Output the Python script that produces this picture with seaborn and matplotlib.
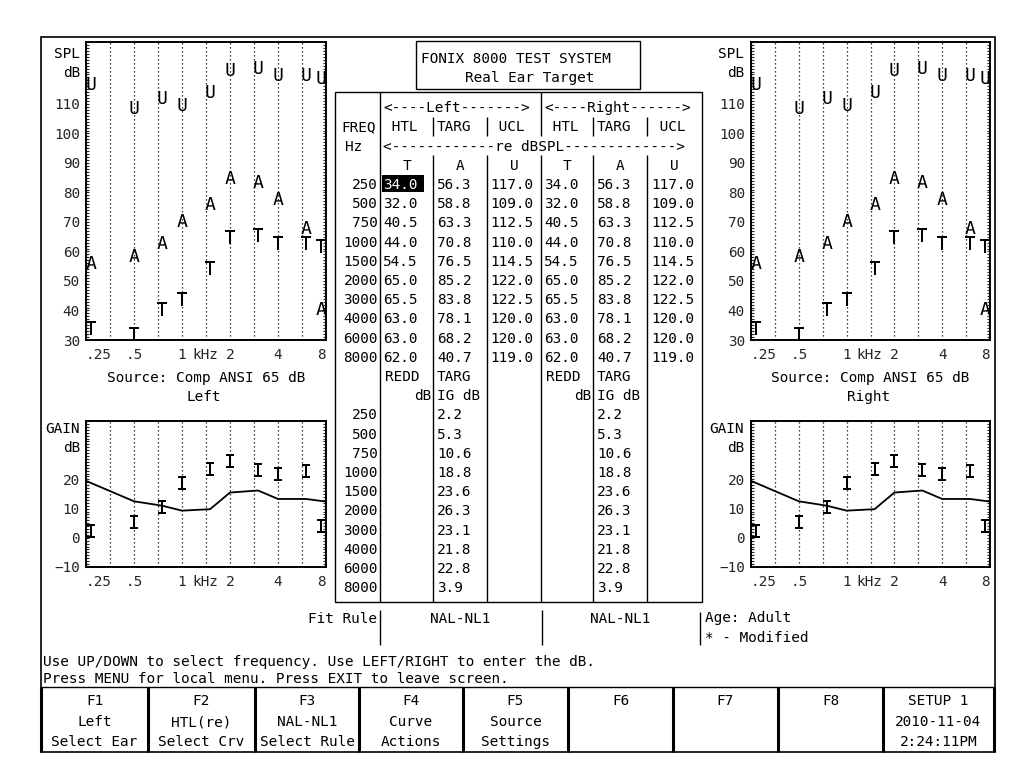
"""
Tela FONIX 8000 - Real Ear Target
Recriacao da captura de tela com matplotlib/seaborn.
"""

# %%
import numpy as np
import pandas as pd
import matplotlib
matplotlib.use("Agg")
import matplotlib.pyplot as plt
import matplotlib.ticker as mticker
import seaborn as sns

# %%
# Dados lidos da tela (lado esquerdo e direito sao iguais)
freqs = [250, 500, 750, 1000, 1500, 2000, 3000, 4000, 6000, 8000]
htl = [34.0, 32.0, 40.5, 44.0, 54.5, 65.0, 65.5, 63.0, 63.0, 62.0]
targ = [56.3, 58.8, 63.3, 70.8, 76.5, 85.2, 83.8, 78.1, 68.2, 40.7]
ucl = [117.0, 109.0, 112.5, 110.0, 114.5, 122.0, 122.5, 120.0, 120.0, 119.0]
targ_ig = [2.2, 5.3, 10.6, 18.8, 23.6, 26.3, 23.1, 21.8, 22.8, 3.9]
# curva continua do grafico GAIN (estimada a olho)
gain_line = [19.5, 12.5, 11.0, 9.3, 9.8, 15.5, 16.2, 13.3, 13.3, 12.4]

freq_ticks = [250, 500, 1000, 2000, 4000, 8000]
freq_tick_labels = [".25", ".5", "1", "2", "4", "8"]
spl_ticks = [30, 40, 50, 60, 70, 80, 90, 100, 110]
gain_ticks = [-10, 0, 10, 20]

fkeys = [
    ["F1", "Left", "Select Ear"],
    ["F2", "HTL(re)", "Select Crv"],
    ["F3", "NAL-NL1", "Select Rule"],
    ["F4", "Curve", "Actions"],
    ["F5", "Source", "Settings"],
    ["F6", "", ""],
    ["F7", "", ""],
    ["F8", "", ""],
    ["SETUP 1", "2010-11-04", "2:24:11PM"],
]

df = pd.DataFrame({"freq": freqs, "HTL": htl, "TARG": targ, "UCL": ucl,
                   "IG": targ_ig, "curva": gain_line})
# letras nas bordas ficam dentro do grafico
df["f_mark"] = df["freq"].clip(250 * 2 ** 0.1, 8000 / 2 ** 0.1)

# %%
W, H, DPI = 1016, 774, 100
FS = 10.4
sns.set_style("white")
plt.rcParams["font.family"] = ["DejaVu Sans Mono"]
plt.rcParams["mathtext.fontset"] = "dejavusans"

fig = plt.figure(figsize=(W / DPI, H / DPI), dpi=DPI)
bg = fig.add_axes([0, 0, 1, 1])
bg.set_xlim(0, W)
bg.set_ylim(H, 0)
bg.axis("off")


def txt(x, y, s, ha="left", **kw):
    bg.text(x, y + 5.2, s, ha=ha, va="baseline", fontsize=FS, color="black", **kw)


def vline(x, y0, y1, lw=1.0):
    bg.plot([x, x], [y0, y1], color="black", lw=lw, solid_capstyle="butt")


def hline(y, x0, x1, lw=1.0):
    bg.plot([x0, x1], [y, y], color="black", lw=lw, solid_capstyle="butt")


def rect(x0, y0, x1, y1, lw=1.0):
    bg.add_patch(plt.Rectangle((x0, y0), x1 - x0, y1 - y0, fill=False,
                               edgecolor="black", lw=lw))


def box(x0, y0, x1, y1):
    return [x0 / W, 1 - y1 / H, (x1 - x0) / W, (y1 - y0) / H]


def letra(c):
    return r"$\mathtt{" + c + "}$"


def eixo_freq(ax, ylim, yticks):
    ax.set_xlim(250, 8000)
    ax.set_ylim(*ylim)
    ax.xaxis.set_major_locator(mticker.FixedLocator(freq_ticks))
    ax.xaxis.set_major_formatter(mticker.FixedFormatter(freq_tick_labels))
    ax.xaxis.set_minor_locator(mticker.FixedLocator([f * 2 ** 0.5 for f in freq_ticks[:-1]]))
    ax.xaxis.set_minor_formatter(mticker.NullFormatter())
    ax.yaxis.set_major_locator(mticker.FixedLocator(yticks))
    ax.yaxis.set_minor_locator(mticker.MultipleLocator(1))
    ax.tick_params(axis="x", which="both", length=0, pad=5.5, labelsize=FS)
    ax.tick_params(axis="y", which="both", direction="in", left=True, right=True,
                   length=2.2, width=0.8, labelsize=FS, pad=4.3)
    ax.grid(True, axis="x", which="both", color="black",
            linestyle=(0, (1, 2.2)), linewidth=0.9)
    for s in ax.spines.values():
        s.set_linewidth(1.4)
        s.set_color("black")
    labels = ax.get_xticklabels()
    labels[0].set_ha("left")
    labels[-1].set_ha("right")
    ax.set_xlabel("")
    ax.set_ylabel("")
    ax.annotate("kHz", xy=(1000, 0), xycoords=("data", "axes fraction"),
                xytext=(10, -19), textcoords="offset pixels",
                ha="left", va="baseline", fontsize=FS)


def grafico_spl(x0, x1):
    ax = fig.add_axes(box(x0, 42, x1, 340))
    ax.set_xscale("log", base=2)
    for col, c in [("UCL", "U"), ("TARG", "A"), ("HTL", "T")]:
        sns.scatterplot(data=df, x="f_mark", y=col, marker=letra(c), s=88,
                        color="black", linewidth=0, ax=ax)
    eixo_freq(ax, (30, 131), spl_ticks)
    return ax


def grafico_gain(x0, x1):
    ax = fig.add_axes(box(x0, 421, x1, 567))
    ax.set_xscale("log", base=2)
    sns.lineplot(data=df, x="freq", y="curva", color="black", lw=1.3, ax=ax)
    sns.scatterplot(data=df, x="f_mark", y="IG", marker=letra("I"), s=88,
                    color="black", linewidth=0, ax=ax)
    eixo_freq(ax, (-10, 40), gain_ticks)
    return ax


# %%
# moldura externa
rect(41, 37, 995, 752, lw=1.2)

# graficos
grafico_spl(86, 326)
grafico_gain(86, 326)
grafico_spl(751, 990)
grafico_gain(751, 990)

for xr in [80, 744]:
    txt(xr, 53, "SPL", ha="right")
    txt(xr, 72, "dB", ha="right")
    txt(xr, 428, "GAIN", ha="right")
    txt(xr, 447, "dB", ha="right")

txt(206, 377, "Source: Comp ANSI 65 dB", ha="center")
txt(204, 396, "Left", ha="center")
txt(870, 377, "Source: Comp ANSI 65 dB", ha="center")
txt(869, 396, "Right", ha="center")

# %%
# titulo
rect(416, 41, 640, 89)
txt(421, 58, "FONIX 8000 TEST SYSTEM")
txt(465, 77, "Real Ear Target")

# tabela central
rect(335, 92, 702, 602)


def ry(i):
    return 107 + 19.2 * i


col_x = [383, 437, 490, 544, 597, 651]
col_c = [406.5, 460, 514, 567, 620, 674.5]

vline(380, 92, 602)
vline(541, 92, ry(1.5))
vline(541, ry(2.5), 602)
for xs in [433, 487, 593, 647]:
    vline(xs, ry(0.5), ry(1.5))
    vline(xs, ry(2.5), 602)

txt(383, ry(0), "<----Left------->")
txt(544, ry(0), "<----Right------>")
txt(341, ry(1), "FREQ")
for xc, s in zip(col_x, [" HTL", "TARG", " UCL", " HTL", "TARG", " UCL"]):
    txt(xc, ry(1), s)
txt(345, ry(2), "Hz")
txt(383, ry(2), "<" + "-" * 12 + "re dBSPL" + "-" * 13 + ">")
for xc, s in zip(col_c, ["T", "A", "U", "T", "A", "U"]):
    txt(xc, ry(3), s, ha="center")

bg.add_patch(plt.Rectangle((382, ry(4) - 9), 42, 17.5, color="black", lw=0))
for k, f in enumerate(freqs):
    y = ry(4 + k)
    txt(378, y, str(f), ha="right")
    vals = [htl[k], targ[k], ucl[k]] * 2
    for j, (xc, v) in enumerate(zip(col_x, vals)):
        cor = "white" if (k == 0 and j == 0) else "black"
        bg.text(xc, y + 5.2, f"{v:.1f}", ha="left", va="baseline",
                fontsize=FS, color=cor)

for base in [0, 3]:
    txt(col_x[base] + 2, ry(14), "REDD")
    txt(col_x[base + 1], ry(14), "TARG")
    txt(col_x[base + 1] - 6, ry(15), "dB", ha="right")
    txt(col_x[base + 1], ry(15), "IG dB")

for k, f in enumerate(freqs):
    y = ry(16 + k)
    txt(378, y, str(f), ha="right")
    txt(col_x[1], y, f"{targ_ig[k]:.1f}")
    txt(col_x[4], y, f"{targ_ig[k]:.1f}")

# linha da regra de ajuste
txt(377, 618, "Fit Rule", ha="right")
vline(380, 610, 645)
vline(542, 610, 645)
vline(700, 612, 645)
txt(460, 618, "NAL-NL1", ha="center")
txt(620, 618, "NAL-NL1", ha="center")
txt(705, 617, "Age: Adult")
txt(705, 637, "* - Modified")

# mensagens
txt(43, 661, "Use UP/DOWN to select frequency. Use LEFT/RIGHT to enter the dB.")
txt(43, 678, "Press MENU for local menu. Press EXIT to leave screen.")

# %%
# barra de teclas de funcao
hline(687, 41, 995)
bordas = [41, 148, 255, 359, 463, 568, 673, 778, 883, 994]
for xb in bordas:
    vline(xb, 687, 752, lw=2.2)
for k, linhas in enumerate(fkeys):
    xc = (bordas[k] + bordas[k + 1]) / 2
    for y, s in zip([700, 721, 741], linhas):
        if s:
            txt(xc, y, s, ha="center")

fig.savefig("out.png", dpi=DPI)
